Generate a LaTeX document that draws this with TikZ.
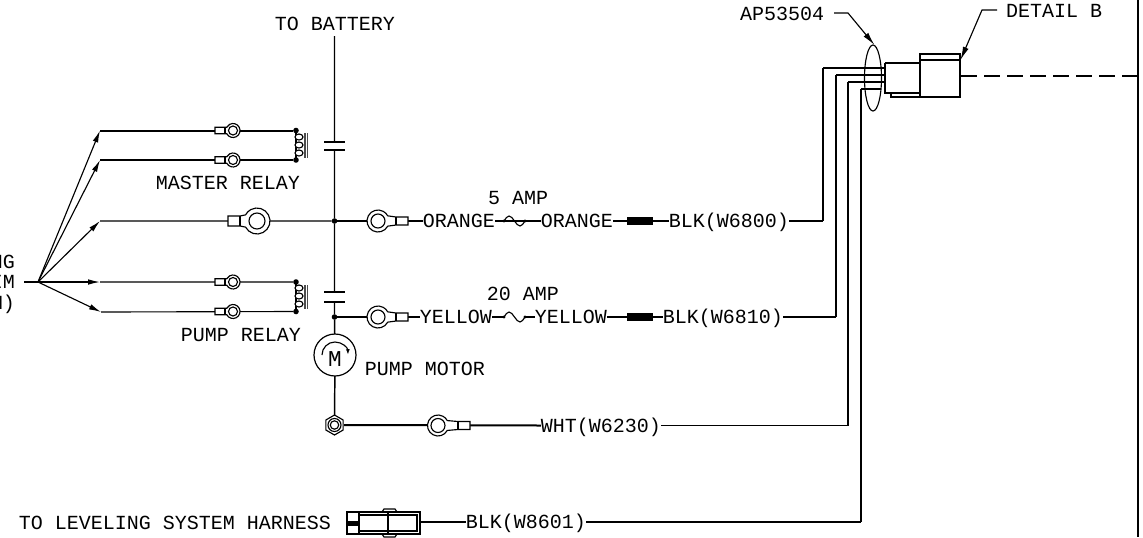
\documentclass[tikz,border=0pt]{standalone}
\usepackage{fontspec}
\setmonofont{Liberation Mono}
\usetikzlibrary{arrows.meta}
\tikzset{
  thinw/.style={line width=0.85pt},
  thickw/.style={line width=1.5pt},
  lab/.style={font=\ttfamily\fontsize{15}{15}\selectfont,inner sep=0pt,outer sep=0pt,text height=10pt,text depth=0pt},
  dotn/.style={circle,fill=black,inner sep=0pt,minimum size=4.2pt,outer sep=0pt},
  blackfuse/.style={rectangle,fill=black,inner sep=0pt,outer sep=0pt,minimum width=19.5pt,minimum height=6pt},
  tiparrow/.style={thinw,-{Latex[length=9pt,width=4.2pt]}},
}
% name, x, y, dir, outer r, inner r, barrel start, barrel end, barrel half height
\newcommand\ringterm[9]{%
  \begin{scope}[shift={(#2,#3)},xscale=#4]
    \draw[thinw,fill=white] (28:#5) arc[start angle=28,end angle=332,radius=#5] -- (#7,-#9) -- (#8,-#9) -- (#8,#9) -- (#7,#9) -- cycle;
    \draw[thinw] (#7,-#9) -- (#7,#9);
    \draw[thinw] (#6,0) circle[radius=0] (0,0) circle[radius=#6];
    \coordinate (#1r) at (-#5,0);
    \coordinate (#1b) at (#8,0);
  \end{scope}}
% name, x0, y
\newcommand\fusewave[3]{%
  \coordinate (#1a) at (#2,#3);
  \coordinate (#1b) at ({#2+21},#3);
  \fill (#1a) circle[radius=1.6] (#1b) circle[radius=1.6];
  \draw[thinw] (#1a) sin ({#2+5},{#3-5}) cos ({#2+10.5},#3) sin ({#2+16},{#3+5}) cos (#1b);}
% y of first dot, y of second dot, three loop ys, bar ends
\newcommand\relaycoil[7]{%
  \draw[thinw] (296,#1) -- (296,#2);
  \foreach \yy in {#3,#4,#5} {\draw[thinw,fill=white] (299,\yy) ellipse[x radius=4,y radius=3];}
  \draw[line width=0.8pt,black!70] (305,#6) -- (305,#7) (307.5,#6) -- (307.5,#7);}
\begin{document}
\begin{tikzpicture}[x=0.75pt,y=-0.75pt]
\useasboundingbox (0,0) rectangle (1143,537);
% ---- labels
\node[lab] (battery) at (335,24) {TO BATTERY};
\node[lab] (ap) at (782,14) {AP53504};
\node[lab] (detail) at (1054,11) {DETAIL B};
\node[lab] (master) at (228,183) {MASTER RELAY};
\node[lab] (pump) at (241,335) {PUMP RELAY};
\node[lab] (motorl) at (425,369) {PUMP MOTOR};
\node[lab] (amp5) at (518,198) {5 AMP};
\node[lab] (amp20) at (523,294) {20 AMP};
\node[lab,anchor=east] (l1) at (15,262) {NG};
\node[lab,anchor=east] (l2) at (15,282) {IM};
\node[lab,anchor=east] (l3) at (15,303) {M)};
\node[lab] (lev) at (175,523) {TO LEVELING SYSTEM HARNESS};
\node[lab] (or1) at (459,221) {ORANGE};
\node[lab] (or2) at (577,221) {ORANGE};
\node[lab] (b1) at (729,221) {BLK(W6800)};
\node[lab] (ye1) at (456,317) {YELLOW};
\node[lab] (ye2) at (571,317) {YELLOW};
\node[lab] (b2) at (723,317) {BLK(W6810)};
\node[lab] (wht) at (601,425.5) {WHT(W6230)};
\node[lab] (b3) at (526,522) {BLK(W8601)};
% ---- bus points
\coordinate (busTop) at (334.5,36);
\coordinate (p1a) at (334.5,142);
\coordinate (p1b) at (334.5,150);
\coordinate (p2a) at (334.5,292);
\coordinate (p2b) at (334.5,302);
\node[dotn] (j1) at (334.5,221) {};
\node[dotn] (j2) at (334.5,317) {};
\node[circle,draw,line width=0.9pt,inner sep=0pt,minimum size=31.5pt,outer sep=0pt] (motor) at (335,355) {};
\draw[thinw,line width=1.1pt] (busTop) -- (p1a) (p1b) -- (j1) -- (p2a) (p2b) -- (j2) -- (motor);
\draw[thinw] (324,142) -- (345,142) (324,292) -- (345,292) (324,302) -- (345,302);
\draw[thickw] (324,150) -- (345,150);
% motor symbol
\node[inner sep=0pt,font=\ttfamily\fontsize{17}{17}\selectfont,text height=13pt,text depth=0pt] (mm) at (335,358) {M};
\draw[thinw,-{Latex[length=4pt,width=3pt]}] (322,355) arc[start angle=180,end angle=358,radius=13];
% nut
\coordinate (nut) at (334.5,425);
\draw[thinw,line width=1.1pt] (motor) -- (nut);
\draw[thinw,fill=white] (nut) ++(90:10) -- ++(-30:10) -- ++(-90:10) -- ++(-150:10) -- ++(150:10) -- ++(90:10) -- cycle;
\draw[thinw] (nut) circle[radius=6.5] circle[radius=4.2];
\coordinate (nutr) at (344,425);
% ---- fan
\coordinate (f0) at (24,282);
\coordinate (f) at (38,282);
\coordinate (a1) at (100,130.5);
\coordinate (a2) at (100,160);
\coordinate (a3) at (100,221);
\coordinate (a4) at (100,282);
\coordinate (a5) at (101,312);
\draw[thinw] (f0) -- (f);
\foreach \t in {a1,a2,a3,a4,a5} {\draw[tiparrow] (f) -- (\t);}
% ---- relay dots
\node[dotn] (m1) at (296,130.5) {};
\node[dotn] (m2) at (296,160) {};
\node[dotn] (r1) at (296,282) {};
\node[dotn] (r2) at (296,311.5) {};
% ---- left wires
\draw[thickw] (a1) -- (m1) (a2) -- (m2);
\draw[thinw] (a3) -- (j1) (a4) -- (r1) (a5) -- (r2);
\ringterm{t1}{233}{130.5}{-1}{7}{4.5}{8}{18}{3.2}
\ringterm{t2}{233}{160}{-1}{7}{4.5}{8}{18}{3.2}
\ringterm{t3}{257}{221}{-1}{13}{8}{17}{29}{5}
\ringterm{t4}{233}{282}{-1}{7}{4.5}{8}{18}{3.2}
\ringterm{t5}{233}{311.5}{-1}{7}{4.5}{8}{18}{3.2}
\relaycoil{130.5}{160}{137}{145}{153}{133}{158}
\relaycoil{282}{311.5}{288}{296}{304}{285}{309}
% ---- 5 A branch
\draw[thinw] (j1) -- (or1.west);
\ringterm{t6}{378}{221}{1}{11}{7}{18}{30}{4}
\fusewave{fa}{504}{221}
\node[blackfuse] (bf1) at (640,221) {};
\draw[thinw] (or1.east) -- (fab-|fab) (or1.east) ++(1,0) -- (faa) (fab) -- (or2.west) (or2.east) -- (bf1) (bf1) -- (b1.west);
% ---- 20 A branch
\draw[thickw] (j2) -- (ye1.west);
\ringterm{t7}{378}{317}{1}{11}{7}{18}{30}{4}
\fusewave{fc}{504}{317}
\node[blackfuse] (bf2) at (640,317) {};
\draw[thickw,line width=1.2pt] (ye1.east) -- (fca) (fcb) -- (ye2.west) (ye2.east) -- (bf2) (bf2) -- (b2.west);
% ---- WHT
\draw[thickw] (nutr) -- (wht.west);
\ringterm{t8}{438}{425.5}{1}{10.5}{7}{20}{32}{4}
% ---- connector to harness
\coordinate (c1) at (885,68);
\coordinate (c2) at (885,75);
\coordinate (c3) at (885,82);
\coordinate (c4) at (881,89);
\coordinate (k1) at (823,221);
\coordinate (k2) at (836,317);
\coordinate (k3) at (848,425.5);
\coordinate (k4) at (861,522);
\draw[thinw,line width=1.1pt] (b1.east) -- (k1);
\draw[thickw,line width=1.3pt] (b2.east) -- (k2);
\draw[thickw,line width=1.3pt] (wht.east) -- (k3);
\draw[thickw,line width=1.3pt] (b3.east) -- (k4);
\draw[thinw,line width=1.1pt] (k1) -- (823,68);
\draw[thinw,line width=1.1pt] (k2) -- (836,75);
\draw[thinw,line width=1.1pt] (k3) -- (848,82);
\draw[thinw,line width=1.1pt] (k4) -- (861,89);
\draw[thickw] (823,68) -- (c1) (836,75) -- (c2) (848,82) -- (c3);
\draw[thinw] (861,89) -- (c4);
% leveling connector
\coordinate (lc) at (420,522);
\draw[thickw,line width=1.3pt] (lc) -- (b3.west);
\begin{scope}[thinw]
  \draw[fill=white] (382,512) -- (384,509) -- (395,509) -- (397,512) -- (382,512);
  \draw[fill=white] (382,534) -- (384,537) -- (395,537) -- (397,534) -- (382,534);
  \draw[line width=1.1pt,fill=white] (347,512) rectangle (420,534);
  \draw (359,512) -- (359,534) (388,512) -- (388,534);
  \draw (359,515) -- (417,515) -- (417,531) -- (359,531);
  \fill (347,520.5) rectangle (359,525.5);
\end{scope}
% harness plug
\draw[thinw,fill=white] (891,93) rectangle (920,97);
\draw[thickw,fill=white] (885,63) -- (920,63) (885,63) -- (885,93) -- (920,93);
\draw[thinw,fill=white] (920,54) rectangle (960,97);
\draw[thickw] (920,97) -- (960,97) (920,63) -- (920,97);
\draw[thinw] (920,60) -- (960,60);
\draw[line width=2pt] (960,57) -- (960,98);
% ellipse and leaders
\draw[thinw] (873,78) ellipse[x radius=8.5,y radius=33];
\coordinate (apa) at (834,13);
\coordinate (apb) at (848,13);
\coordinate (aptip) at (874.5,45);
\draw[thinw,-{Latex[length=10pt,width=4.5pt]}] (apa) -- (apb) -- (aptip);
\coordinate (dea) at (997,10);
\coordinate (deb) at (982,10);
\coordinate (detip) at (960.5,60);
\draw[thinw,-{Latex[length=10pt,width=4.5pt]}] (dea) -- (deb) -- (detip);
% dashed and border
\coordinate (dsh) at (961,76);
\coordinate (dshe) at (1137,76);
\draw[thickw,dash pattern=on 12pt off 5.25pt] (dsh) -- (dshe);
\coordinate (bd1) at (1137.5,0);
\coordinate (bd2) at (1137.5,537);
\draw[thickw] (bd1) -- (bd2);
\end{tikzpicture}
\end{document}
